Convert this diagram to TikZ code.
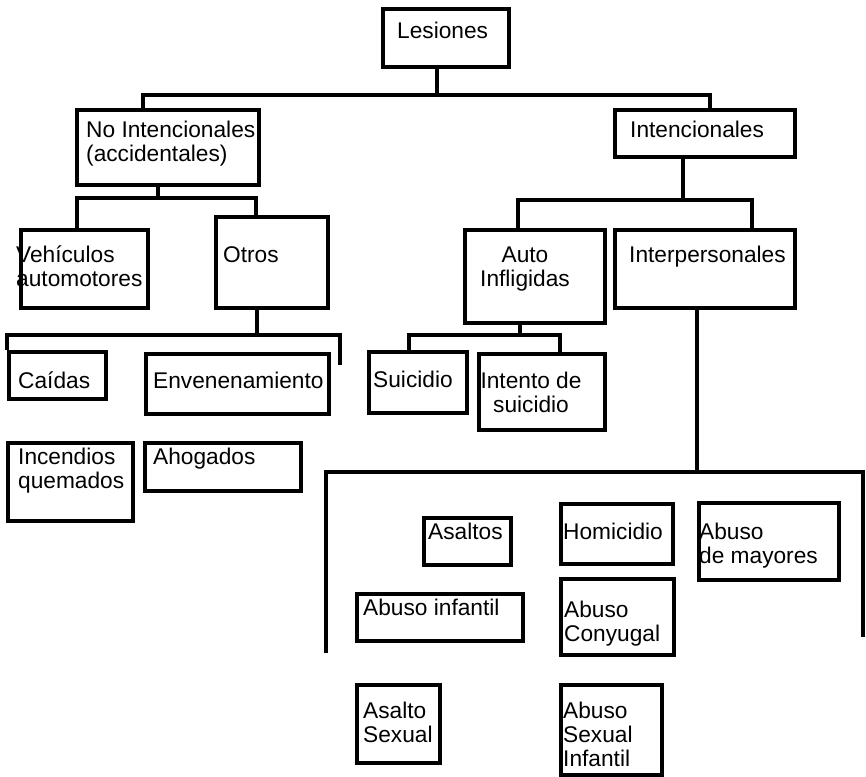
\documentclass[tikz,border=0pt]{standalone}
\usepackage{fontspec}
\setmainfont{Liberation Sans}
\tikzset{
  box/.style={draw, line width=3.8pt, inner sep=0pt},
  conn/.style={draw, line width=3.6pt},
  txt/.style={inner sep=0pt, anchor=north west, align=left, font=\fontsize{22.7}{24}\selectfont},
  ctxt/.style={txt, anchor=north, align=center},
}
\newcommand{\st}{\rule{0pt}{21pt}}
\newcommand{\bx}[5]{\node[box, minimum width={#4-#2}, minimum height={#5-#3}, anchor=north west] (#1) at (#2,#3) {};}
\begin{document}
\begin{tikzpicture}[x=1pt, y=-1pt]
\useasboundingbox (0,0) rectangle (866,776);
% texts
\node[txt] (t-les) at (397,17) {\st Lesiones};
\node[txt] (t-noint) at (86,116) {\st No Intencionales\\(accidentales)};
\node[txt] (t-inten) at (630,116) {\st Intencionales};
\node[txt] (t-vehic) at (16,241) {\st Vehículos\\automotores};
\node[txt] (t-otros) at (223,241) {\st Otros};
\node[ctxt] (t-auto) at (525,241) {\st Auto\\Infligidas};
\node[txt] (t-inter) at (629,241) {\st Interpersonales};
\node[txt] (t-caidas) at (18,367) {\st Caídas};
\node[txt] (t-enven) at (153,367) {\st Envenenamiento};
\node[txt] (t-suic) at (373,366) {\st Suicidio};
\node[ctxt] (t-intento) at (531,367) {\st Intento de\\suicidio};
\node[txt] (t-incend) at (18,443) {\st Incendios\\quemados};
\node[txt] (t-ahog) at (153,443) {\st Ahogados};
\node[txt] (t-asaltos) at (428,518) {\st Asaltos};
\node[txt] (t-homic) at (563,518) {\st Homicidio};
\node[txt] (t-mayores) at (699,518) {\st Abuso\\de mayores};
\node[txt] (t-abinf) at (363,594) {\st Abuso infantil};
\node[txt] (t-conyug) at (564,596) {\st Abuso\\Conyugal};
\node[txt] (t-asexual) at (363,697) {\st Asalto\\Sexual};
\node[txt] (t-asinf) at (563,697) {\st Abuso\\Sexual\\Infantil};
% boxes
\bx{lesiones}{381}{7}{507}{65}
\bx{noint}{75}{108}{257}{183}
\bx{inten}{613}{108}{793}{155}
\bx{vehic}{19}{228}{146}{306}
\bx{otros}{214}{215}{326}{306}
\bx{auto}{463}{228}{603}{321}
\bx{inter}{613}{228}{793}{306}
\bx{caidas}{7}{350}{104}{397}
\bx{enven}{144}{352}{327}{412}
\bx{suic}{367}{350}{465}{411}
\bx{intento}{477}{352}{603}{428}
\bx{incend}{6}{441}{131}{519}
\bx{ahog}{143}{441}{299}{489}
\bx{asaltos}{422}{516}{509}{563}
\bx{homic}{559}{502}{671}{562}
\bx{mayores}{697}{501}{837}{578}
\bx{abinf}{355}{592}{521}{639}
\bx{conyug}{559}{577}{672}{653}
\bx{asexual}{355}{683}{438}{761}
\bx{asinf}{559}{683}{660}{773}
% junctions
\coordinate (j1) at (437,95); \coordinate (j1l) at (143,95); \coordinate (j1r) at (710,95);
\coordinate (j2) at (683,200); \coordinate (j2l) at (518,200); \coordinate (j2r) at (752,200);
\coordinate (j3) at (158,198); \coordinate (j3l) at (77,198); \coordinate (j3r) at (256,198);
\coordinate (j4) at (257,335); \coordinate (j4l) at (7,335); \coordinate (j4r) at (340,335); \coordinate (e4) at (340,365);
\coordinate (j5) at (520,335); \coordinate (j5l) at (409,335); \coordinate (j5r) at (560,335);
\coordinate (j6) at (697,472); \coordinate (j6l) at (326,472); \coordinate (j6r) at (863,472);
\coordinate (e6l) at (326,653); \coordinate (e6r) at (863,637);
% connectors
\draw[conn] (lesiones.south -| j1) -- (j1);
\draw[conn] (noint.north -| j1l) -- (j1l) -- (j1r) -- (inten.north -| j1r);
\draw[conn] (inten.south -| j2) -- (j2);
\draw[conn] (auto.north -| j2l) -- (j2l) -- (j2r) -- (inter.north -| j2r);
\draw[conn] (noint.south -| j3) -- (j3);
\draw[conn] (vehic.north -| j3l) -- (j3l) -- (j3r) -- (otros.north -| j3r);
\draw[conn] (otros.south -| j4) -- (j4);
\draw[conn] (caidas.north -| j4l) -- (j4l) -- (j4r) -- (e4);
\draw[conn] (auto.south -| j5) -- (j5);
\draw[conn] (suic.north -| j5l) -- (j5l) -- (j5r) -- (intento.north -| j5r);
\draw[conn] (inter.south -| j6) -- (j6);
\draw[conn] (e6l) -- (j6l) -- (j6r) -- (e6r);
\end{tikzpicture}
\end{document}
